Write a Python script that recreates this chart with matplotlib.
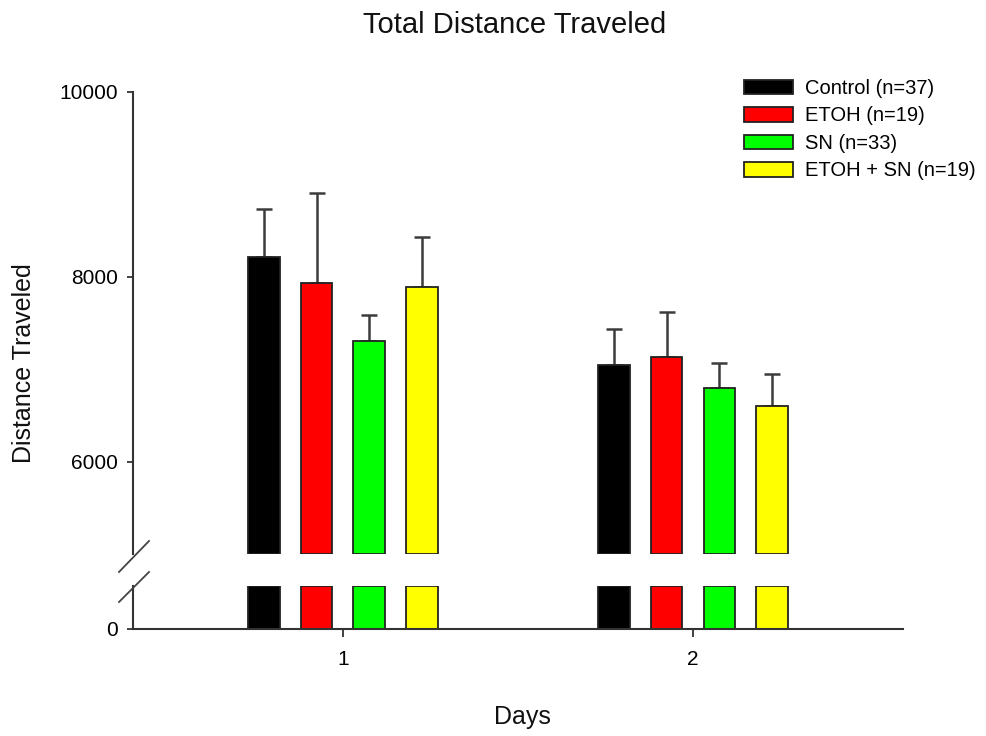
import numpy as np
import matplotlib
matplotlib.use("Agg")
import matplotlib.pyplot as plt
from matplotlib.patches import Patch
from matplotlib.lines import Line2D

plt.rcParams['font.family'] = ['Liberation Sans', 'DejaVu Sans']

# group means and SEM per day
days = [1, 2]
groups = ['Control (n=37)', 'ETOH (n=19)', 'SN (n=33)', 'ETOH + SN (n=19)']
colors = ['#000000', '#ff0000', '#00ff00', '#ffff00']
means = {
    'Control (n=37)':   [8215, 7045],
    'ETOH (n=19)':      [7925, 7125],
    'SN (n=33)':        [7300, 6800],
    'ETOH + SN (n=19)': [7885, 6605],
}
sems = {
    'Control (n=37)':   [510, 385],
    'ETOH (n=19)':      [975, 495],
    'SN (n=33)':        [280, 260],
    'ETOH + SN (n=19)': [540, 345],
}
upper_ticks = [6000, 8000, 10000]

W, H = 987, 736
fig = plt.figure(figsize=(W / 100, H / 100), dpi=100)


def frac(x0, y0, x1, y1):
    # pixel box (top-left origin) -> figure axes rect
    return [x0 / W, 1 - y1 / H, (x1 - x0) / W, (y1 - y0) / H]


ax_top = fig.add_axes(frac(133, 91.5, 903, 554))
ax_bot = fig.add_axes(frac(133, 586, 903, 629))

axis_col = '#333333'
edge_col = '#222222'
err_col = '#3c3c3c'

low_top = 465
up_bottom = 5000
width = 0.09
step = 0.15
x = np.array(days, dtype=float)

for i, g in enumerate(groups):
    xi = x + (i - 1.5) * step
    vals = np.array(means[g])
    ax_top.bar(xi, vals - up_bottom, bottom=up_bottom, width=width,
               color=colors[i], edgecolor=edge_col, linewidth=1.3, zorder=2)
    ax_top.errorbar(xi, vals, yerr=[np.zeros_like(vals), sems[g]], fmt='none',
                    ecolor=err_col, elinewidth=1.8, capsize=5.5, capthick=1.8,
                    zorder=1)
    ax_bot.bar(xi, np.minimum(vals, low_top), width=width,
               color=colors[i], edgecolor=edge_col, linewidth=1.3, zorder=2)

for ax in (ax_top, ax_bot):
    ax.set_xlim(0.4, 2.6)
    for s in ('top', 'right'):
        ax.spines[s].set_visible(False)
    ax.spines['left'].set_color(axis_col)
    ax.spines['left'].set_linewidth(1.5)
    ax.tick_params(axis='y', direction='out', length=4, width=1.3,
                   color=axis_col, labelsize=15, pad=7)

ax_top.set_ylim(up_bottom, 10000)
ax_top.set_yticks(upper_ticks)
ax_top.spines['bottom'].set_visible(False)
ax_top.tick_params(axis='x', bottom=False, labelbottom=False)

ax_bot.set_ylim(0, low_top)
ax_bot.set_yticks([0])
ax_bot.spines['bottom'].set_color(axis_col)
ax_bot.spines['bottom'].set_linewidth(1.5)
ax_bot.set_xticks(days)
ax_bot.set_xticklabels([str(d) for d in days])
ax_bot.tick_params(axis='x', direction='out', length=6, width=1.3,
                   color=axis_col, labelsize=15, pad=9)

# axis break slashes
for (x0, y0, x1, y1) in [(119, 572, 149, 541), (119, 602, 149, 572)]:
    fig.add_artist(Line2D([x0 / W, x1 / W], [1 - y0 / H, 1 - y1 / H],
                          color='#444444', linewidth=1.3))

fig.text(515 / W, 1 - 25 / H, 'Total Distance Traveled', ha='center',
         va='center', fontsize=21, color='#111111')
fig.text(24 / W, 1 - 363 / H, 'Distance Traveled', ha='center', va='center',
         rotation=90, fontsize=18, color='#111111')
fig.text(522 / W, 1 - 717 / H, 'Days', ha='center', va='center',
         fontsize=18, color='#111111')

handles = [Patch(facecolor=c, edgecolor=edge_col, linewidth=1.3) for c in colors]
fig.legend(handles, groups, loc='upper left',
           bbox_to_anchor=(744 / W, 1 - 79 / H), frameon=False,
           fontsize=14.5, handlelength=2.43, handleheight=0.74,
           handletextpad=0.6, labelspacing=0.42, borderpad=0,
           borderaxespad=0)

fig.savefig('out.png', dpi=100)
